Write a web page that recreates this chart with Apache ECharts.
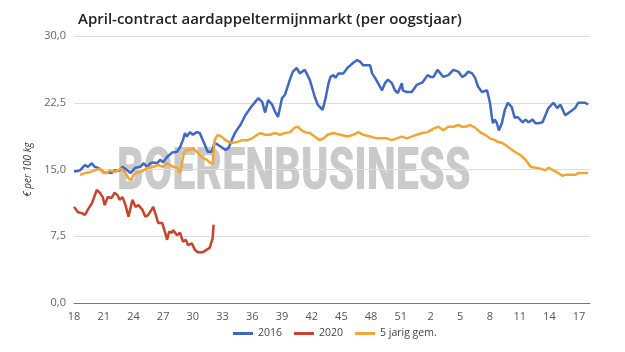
<!DOCTYPE html>
<html>
<head>
<meta charset="utf-8">
<script src="https://cdn.jsdelivr.net/npm/echarts@6/dist/echarts.min.js"></script>
<style>
html,body{margin:0;padding:0;background:#fff;}
#chart{width:625px;height:352px;}
</style>
</head>
<body>
<div id="chart"></div>
<script>
// x = weken vanaf week 18 (0 = wk 18, 34 = wk 52, 35 = wk 1)
var weekStart = 18;

var wk2016 = [0,0.3,0.6,1.1,1.4,1.8,2.1,2.4,2.8,3.1,3.4,3.8,4.1,4.6,4.9,5.4,5.7,6.2,6.7,7.0,7.4,7.7,8.0,8.4,8.7,9.0,9.4,9.9,10.4,10.7,11.0,11.2,11.4,11.7,12.0,12.4,12.7,12.9,13.2,13.5,13.9,14.2,14.5,14.9,15.3,15.6,16.0,16.3,16.8,17.3,17.8,18.3,18.6,19.0,19.3,19.6,20.0,20.3,20.6,21.0,21.3,21.8,22.1,22.5,22.8,23.3,23.8,24.3,24.6,25.1,25.4,25.7,25.9,26.2,26.4,26.7,27.2,27.6,27.9,28.2,28.6,28.9,29.2,29.6,29.9,30.1,30.4,30.7,31.1,31.4,31.7,32.1,32.4,32.7,33.1,33.2,33.6,34.1,34.6,35.2,35.7,36.0,36.3,36.7,37.0,37.3,37.8,38.3,38.8,39.2,39.5,39.8,40.2,40.5,40.8,41.2,41.4,41.7,42.0,42.2,42.3,42.5,42.7,42.9,43.2,43.5,43.8,44.2,44.5,44.8,45.3,45.6,45.9,46.3,46.6,46.9,47.3,47.6,47.9,48.4,48.8,49.1,49.6,50.1,50.6,50.9,51.3,51.6,51.9];
var val2016 = [14.8,14.8,14.9,15.5,15.3,15.7,15.3,15.2,14.9,14.6,14.7,14.6,14.9,14.9,15.3,14.9,14.6,15.2,15.3,15.7,15.3,15.7,15.8,15.7,16.1,15.8,16.4,16.9,17.0,17.5,18.3,19.1,18.7,19.2,18.9,19.2,19.1,18.9,17.8,17.0,17.0,18.0,17.8,17.5,17.2,17.4,18.5,19.2,20.0,21.1,21.9,22.6,23.0,22.6,21.4,22.8,22.3,21.5,20.9,23.0,23.4,25.1,26.0,26.4,25.8,26.2,25.1,23.2,22.3,21.7,23.0,24.7,25.4,25.6,25.3,25.8,25.8,26.4,26.7,27.0,27.3,27.1,26.7,26.7,26.7,25.8,25.3,24.7,23.9,24.7,25.1,24.7,23.9,23.6,24.7,23.9,23.7,23.7,24.5,24.8,25.6,25.4,25.4,26.2,25.8,25.4,25.6,26.2,26.0,25.4,25.6,26.0,25.8,25.3,24.3,23.7,23.6,23.9,22.5,20.8,20.2,20.6,20.2,19.4,20.2,21.7,22.5,22.0,20.8,20.9,20.3,20.6,20.3,20.6,20.2,20.2,20.3,21.1,21.9,22.5,21.9,22.3,21.1,21.5,21.9,22.5,22.5,22.5,22.3];

var wk2020 = [0,0.4,0.8,1.1,1.4,1.8,2.3,2.6,2.9,3.1,3.4,3.8,3.9,4.1,4.4,4.6,4.9,5.2,5.5,5.9,6.2,6.5,6.9,7.2,7.5,8.0,8.2,8.5,8.9,9.2,9.4,9.6,9.9,10.0,10.4,10.7,11.0,11.3,11.5,11.9,12.2,12.5,12.7,13.0,13.4,13.7,14.0,14.1];
var val2020 = [10.8,10.2,10.1,9.9,10.5,11.2,12.7,12.4,11.9,11.0,11.9,11.8,11.6,12.4,12.1,11.6,11.9,11.0,9.7,11.6,10.8,11.0,10.5,9.7,9.9,10.8,10.1,9.0,9.0,7.9,7.1,8.0,7.9,8.2,7.6,7.9,6.9,7.1,6.5,6.7,6.0,5.7,5.5,5.7,6.0,6.2,7.3,8.8];

var wkGem = [0.6,1.1,1.6,2.1,2.6,2.9,3.3,3.6,4.1,4.4,4.8,5.2,5.5,5.8,6.0,6.4,6.7,7.0,7.5,8.0,8.5,9.0,9.4,9.7,10.0,10.4,10.7,10.9,11.1,11.4,11.7,12.0,12.4,12.7,13.0,13.4,13.7,14.0,14.2,14.5,14.9,15.3,15.6,16.0,16.5,17.0,17.5,18.0,18.5,18.8,19.3,19.8,20.3,20.8,21.3,21.8,22.3,22.6,23.0,23.3,23.8,24.3,24.8,25.2,25.6,26.2,26.9,27.6,28.2,28.7,29.2,29.9,30.6,31.1,31.6,32.1,32.6,33.1,33.6,34.1,34.6,35.2,35.7,36.3,36.8,37.3,37.8,38.3,38.8,39.2,39.5,40.0,40.5,41.0,41.5,42.0,42.5,42.8,43.2,43.5,44.0,44.5,45.1,45.6,46.1,46.6,47.1,47.6,47.9,48.4,48.9,49.3,49.6,50.1,50.6,50.9,51.4,51.9];
var valGem = [14.4,14.6,14.7,14.9,15.1,14.7,14.6,14.9,14.7,14.9,15.1,14.6,14.0,13.8,14.4,14.7,14.7,14.9,15.2,15.3,15.5,15.3,15.7,15.5,15.3,15.2,14.6,15.7,16.9,17.2,17.2,17.4,17.0,16.6,16.3,16.1,15.8,15.6,18.3,18.9,18.7,18.3,18.1,18.0,18.1,18.3,18.3,18.5,18.9,19.1,18.9,18.9,19.1,18.9,19.1,19.2,19.7,19.8,19.4,19.2,19.1,18.7,18.3,18.5,18.9,19.1,18.9,18.7,18.9,19.2,18.9,18.7,18.5,18.5,18.5,18.3,18.5,18.7,18.5,18.7,18.9,19.1,19.2,19.6,19.8,19.4,19.8,19.8,20.0,19.8,19.8,20.0,19.7,19.2,18.9,18.5,18.3,18.1,18.0,17.8,17.4,17.0,16.6,16.1,15.3,15.2,15.1,14.9,15.2,14.9,14.6,14.3,14.4,14.4,14.4,14.6,14.6,14.6];

var yTicks = [0, 7.5, 15, 22.5, 30];

function pairs(w, v){
    var out = [];
    for(var i=0;i<w.length;i++){ out.push([w[i], v[i]]); }
    return out;
}

function weekLabel(v){
    var w = weekStart + Math.round(v);
    if(w > 52) w = w - 52;
    return String(w);
}

var chart = echarts.init(document.getElementById('chart'));

var option = {
    animation:false,
    backgroundColor:'#fff',
    title:{
        text:'April-contract aardappeltermijnmarkt (per oogstjaar)',
        left:73,
        top:7,
        textStyle:{fontFamily:'Open Sans',fontSize:15,fontWeight:600,color:'#222'}
    },
    graphic:[{
        type:'text',
        left:117,
        top:145,
        z:0,
        silent:true,
        style:{
            text:'BOERENBUSINESS',
            fontFamily:'Roboto',
            fontWeight:900,
            fontSize:59,
            fill:'rgba(150,150,150,0.5)'
        },
        scaleX:0.70
    }],
    legend:{
        bottom:8,
        left:228,
        itemWidth:20,
        itemHeight:3,
        itemGap:12,
        icon:'rect',
        textStyle:{fontFamily:'Open Sans',fontSize:10.5,color:'#444'},
        data:['2016','2020','5 jarig gem.']
    },
    grid:{left:74,right:35,top:36,bottom:49},
    xAxis:{
        type:'value',
        min:0,
        max:52.1,
        interval:3,
        axisLine:{lineStyle:{color:'#777',width:1}},
        axisTick:{show:false},
        splitLine:{show:false},
        axisLabel:{
            color:'#555',fontSize:11,fontFamily:'Open Sans',
            showMaxLabel:false,
            formatter:weekLabel
        }
    },
    yAxis:{
        type:'value',
        min:yTicks[0],
        max:yTicks[yTicks.length-1],
        interval:7.5,
        name:'€ per 100 kg',
        nameLocation:'middle',
        nameGap:32,
        nameTextStyle:{fontFamily:'Open Sans',fontSize:10,fontStyle:'italic',color:'#333'},
        axisLine:{show:false},
        axisTick:{show:false},
        splitLine:{lineStyle:{color:'#ddd'}},
        axisLabel:{
            color:'#666',fontSize:11,fontFamily:'Open Sans',
            formatter:function(v){ return v.toFixed(1).replace('.', ','); }
        }
    },
    series:[
        {name:'2016',type:'line',data:pairs(wk2016,val2016),showSymbol:false,
            lineStyle:{width:2.5,color:'#3f68c6'},itemStyle:{color:'#3f68c6'},z:3},
        {name:'2020',type:'line',data:pairs(wk2020,val2020),showSymbol:false,
            lineStyle:{width:2.5,color:'#c9432b'},itemStyle:{color:'#c9432b'},z:3},
        {name:'5 jarig gem.',type:'line',data:pairs(wkGem,valGem),showSymbol:false,
            lineStyle:{width:2.5,color:'#f3a534'},itemStyle:{color:'#f3a534'},z:3}
    ]
};

chart.setOption(option);
</script>
</body>
</html>
